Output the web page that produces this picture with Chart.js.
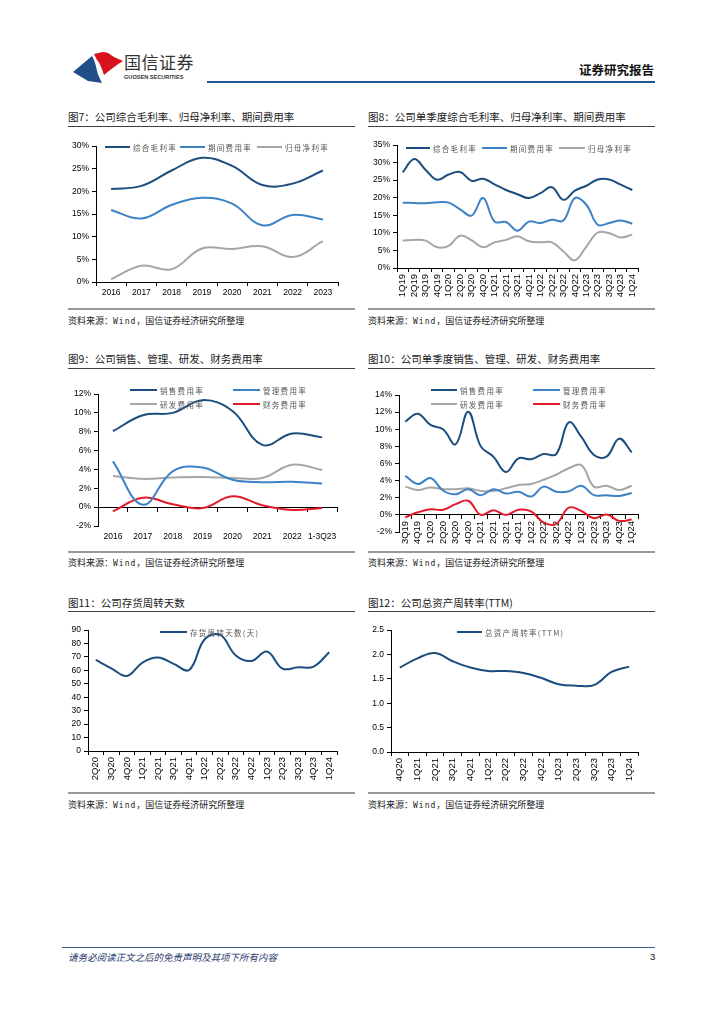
<!DOCTYPE html>
<html>
<head>
<meta charset="utf-8">
<script src="https://cdn.jsdelivr.net/npm/chart.js@4.4.1/dist/chart.umd.min.js"></script>
<style>
body{margin:0;background:#fff;width:724px;height:1024px;position:relative;overflow:hidden;font-family:"Noto Sans CJK SC",sans-serif;}
.t{position:absolute;white-space:nowrap;line-height:14px;}
.title{font-size:10.5px;color:#1a1a1a;}
.src{font-size:9px;color:#1a1a1a;}
.src b{font-weight:normal;font-family:"DejaVu Sans Mono",monospace;font-size:8px;letter-spacing:1px;}
.rule{position:absolute;}
.box{position:absolute;}
.lg{position:absolute;display:flex;align-items:center;height:12px;font-size:7.5px;letter-spacing:1.3px;color:#555;white-space:nowrap;}
.lg i{display:inline-block;height:2px;margin-right:3px;}
</style>
</head>
<body>
<svg class="rule" style="left:0;top:0" width="724" height="100">
  <path d="M73,72 L92,56 C95,61 96,66 97,71 C98,75 100,79 102,83 L88,81 Z" fill="#1f4f86"/>
  <path d="M94,54 L103,52 C108,52 111,55 114,57 L123,61 C116,65 110,70 104,75 C102,69 100,63 97,60 Z" fill="#d7121e"/>
</svg>
<div class="t" style="left:124px;top:52px;font-size:17px;line-height:20px;color:#333;letter-spacing:0.5px">国信证券</div>
<div class="t" style="left:124px;top:73px;font-size:5.6px;line-height:8px;color:#333;font-weight:bold;font-family:'Liberation Sans',Arial,sans-serif">GUOSEN SECURITIES</div>
<div class="t" style="left:579px;top:62px;font-size:12.5px;line-height:16px;font-weight:bold;color:#111">证券研究报告</div>
<div class="rule" style="left:207px;top:81px;width:448px;height:2px;background:#1f5a92"></div>

<!-- row 1 -->
<div class="t title" style="left:68px;top:110px">图7：公司综合毛利率、归母净利率、期间费用率</div>
<div class="t title" style="left:368px;top:110px">图8：公司单季度综合毛利率、归母净利率、期间费用率</div>
<div class="rule" style="left:68px;top:126px;width:287px;height:1.3px;background:#404040"></div>
<div class="rule" style="left:368px;top:126px;width:287px;height:1.3px;background:#404040"></div>
<div class="rule" style="left:68px;top:308px;width:287px;height:1.6px;background:#999"></div>
<div class="rule" style="left:368px;top:308px;width:287px;height:1.6px;background:#999"></div>
<div class="t src" style="left:68px;top:314px">资料来源：<b>Wind</b>，国信证券经济研究所整理</div>
<div class="t src" style="left:368px;top:314px">资料来源：<b>Wind</b>，国信证券经济研究所整理</div>

<!-- row 2 -->
<div class="t title" style="left:68px;top:352px">图9：公司销售、管理、研发、财务费用率</div>
<div class="t title" style="left:368px;top:352px">图10：公司单季度销售、管理、研发、财务费用率</div>
<div class="rule" style="left:68px;top:368px;width:287px;height:1.3px;background:#404040"></div>
<div class="rule" style="left:368px;top:368px;width:287px;height:1.3px;background:#404040"></div>
<div class="rule" style="left:68px;top:551px;width:287px;height:1.6px;background:#999"></div>
<div class="rule" style="left:368px;top:551px;width:287px;height:1.6px;background:#999"></div>
<div class="t src" style="left:68px;top:556px">资料来源：<b>Wind</b>，国信证券经济研究所整理</div>
<div class="t src" style="left:368px;top:556px">资料来源：<b>Wind</b>，国信证券经济研究所整理</div>

<!-- row 3 -->
<div class="t title" style="left:68px;top:596px">图11：公司存货周转天数</div>
<div class="t title" style="left:368px;top:596px">图12：公司总资产周转率(TTM)</div>
<div class="rule" style="left:68px;top:611px;width:287px;height:1.3px;background:#404040"></div>
<div class="rule" style="left:368px;top:611px;width:287px;height:1.3px;background:#404040"></div>
<div class="rule" style="left:68px;top:792px;width:287px;height:1.6px;background:#999"></div>
<div class="rule" style="left:368px;top:792px;width:287px;height:1.6px;background:#999"></div>
<div class="t src" style="left:68px;top:798px">资料来源：<b>Wind</b>，国信证券经济研究所整理</div>
<div class="t src" style="left:368px;top:798px">资料来源：<b>Wind</b>，国信证券经济研究所整理</div>

<!-- footer -->
<div class="rule" style="left:62px;top:947px;width:593px;height:1px;background:#2e5e8e"></div>
<div class="t" style="left:68px;top:950px;font-size:9.5px;font-style:italic;color:#1f3a6e">请务必阅读正文之后的免责声明及其项下所有内容</div>
<div class="t" style="left:650px;top:950px;font-size:9.5px;color:#111;font-family:'Liberation Sans',Arial,sans-serif">3</div>

<script>
// ---- data ----
const years7 = ['2016', '2017', '2018', '2019', '2020', '2021', '2022', '2023'];
const gross7 = [20.5, 21.2, 24.6, 27.4, 25.6, 21.4, 21.7, 24.6];
const expense7 = [15.9, 14.0, 17.0, 18.6, 17.3, 12.5, 14.8, 13.8];
const net7 = [0.6, 3.6, 2.8, 7.4, 7.3, 7.9, 5.5, 9.0];

const quarters8 = ['1Q19', '2Q19', '3Q19', '4Q19', '1Q20', '2Q20', '3Q20', '4Q20', '1Q21', '2Q21', '3Q21',
	'4Q21', '1Q22', '2Q22', '3Q22', '4Q22', '1Q23', '2Q23', '3Q23', '4Q23', '1Q24'];
const gross8 = [27.2, 31.0, 27.9, 25.1, 26.6, 27.3, 24.8, 25.4, 23.8, 22.2, 21.0, 19.9, 21.3, 23.0, 19.4, 22.0, 23.4, 25.2, 25.2, 23.7, 22.2];
const expense8 = [18.6, 18.5, 18.4, 18.7, 18.6, 16.7, 14.9, 19.9, 13.2, 13.1, 10.6, 13.2, 12.8, 13.7, 13.5, 19.9, 18.0, 12.3, 12.8, 13.5, 12.6];
const net8 = [7.8, 8.0, 7.8, 5.9, 6.3, 9.2, 7.9, 5.9, 7.3, 8.0, 9.0, 7.6, 7.3, 7.3, 4.7, 2.2, 6.1, 10.1, 9.9, 8.7, 9.5];

const years9 = ['2016', '2017', '2018', '2019', '2020', '2021', '2022', '1-3Q23'];
const sales9 = [8.05, 9.75, 10.0, 11.35, 10.2, 6.6, 7.8, 7.4];
const admin9 = [4.85, 0.25, 3.8, 4.2, 2.9, 2.65, 2.7, 2.5];
const rd9 = [3.3, 3.0, 3.15, 3.2, 3.1, 3.1, 4.5, 3.95];
const fin9 = [-0.45, 1.0, 0.3, -0.1, 1.15, 0.2, -0.3, -0.1];

const quarters10 = ['3Q19', '4Q19', '1Q20', '2Q20', '3Q20', '4Q20', '1Q21', '2Q21', '3Q21', '4Q21',
	'1Q22', '2Q22', '3Q22', '4Q22', '1Q23', '2Q23', '3Q23', '4Q23', '1Q24'];
const sales10 = [10.9, 11.8, 10.5, 10.0, 8.25, 12.05, 8.0, 6.8, 5.0, 6.6, 6.5, 7.1, 7.1, 10.8, 9.1, 7.0, 6.8, 8.9, 7.3];
const admin10 = [4.55, 3.6, 4.3, 2.85, 2.4, 3.0, 2.3, 3.0, 2.5, 2.7, 2.15, 3.3, 2.7, 2.75, 3.4, 2.3, 2.3, 2.2, 2.55];
const rd10 = [3.3, 2.9, 3.2, 3.0, 3.0, 3.1, 2.8, 2.8, 3.1, 3.5, 3.6, 4.1, 4.7, 5.45, 5.8, 3.3, 3.4, 2.9, 3.4];
const fin10 = [-0.3, 0.3, 0.65, 0.6, 1.25, 1.65, 0.0, 0.55, 0.0, 0.6, 0.4, -0.9, -1.05, 0.85, 0.45, -0.4, 0.05, -0.7, -0.55];

const quarters11 = ['2Q20', '3Q20', '4Q20', '1Q21', '2Q21', '3Q21', '4Q21', '1Q22', '2Q22', '3Q22',
	'4Q22', '1Q23', '2Q23', '3Q23', '4Q23', '1Q24'];
const days11 = [67.7, 61.5, 55.8, 65.8, 69.5, 64.8, 60.3, 83.1, 86.3, 71.0, 67.0, 74.0, 61.3, 62.3, 62.8, 73.5];

const quarters12 = ['4Q20', '1Q21', '2Q21', '3Q21', '4Q21', '1Q22', '2Q22', '3Q22', '4Q22', '1Q23',
	'2Q23', '3Q23', '4Q23', '1Q24'];
const turnover12 = [1.73, 1.92, 2.03, 1.86, 1.73, 1.66, 1.66, 1.62, 1.52, 1.39, 1.36, 1.37, 1.64, 1.75];

// ---- style ----
const NAVY = '#1b4d7e';
const BLUE = '#3c82c4';
const GRAY = '#a6a6a6';
const RED = '#e01b2a';

Chart.defaults.font.family = '"Liberation Sans", Arial, sans-serif';
Chart.defaults.font.size = 8.5;
Chart.defaults.color = '#000';

const pct = v => v + '%';

function line(label, data, color) {
	return {label, data, borderColor: color, borderWidth: 2, pointRadius: 0, tension: 0.4, fill: false};
}

// plot = [left, top, right, bottom] of the plot area on the page
function makeChart(plot, labels, datasets, y, xMode, rotate) {
	const [l, t, r, b] = plot;
	const yW = 32, xH = 34;
	const bx = l - 36, by = t - 10, bw = r + 12 - bx, bh = b + 46 - by;
	const box = document.createElement('div');
	box.className = 'box';
	Object.assign(box.style, {left: bx + 'px', top: by + 'px', width: bw + 'px', height: bh + 'px'});
	const cv = document.createElement('canvas');
	box.appendChild(cv);
	document.body.appendChild(box);

	const xTicks = {autoSkip: false, maxRotation: rotate ? 90 : 0, minRotation: rotate ? 90 : 0, padding: 2,
		font: {size: rotate ? 9.5 : 8.5}};
	const scales = {
		x: {
			type: 'category',
			offset: true,
			position: xMode === 'zero' ? {y: 0} : 'bottom',
			grid: {display: xMode !== 'split', drawTicks: xMode !== 'split', drawOnChartArea: false, offset: true, tickLength: 4, color: '#000'},
			border: {display: xMode !== 'split', color: '#000', width: 1},
			ticks: xMode === 'split' ? Object.assign({}, xTicks, {padding: 6}) : xTicks,
			afterFit: s => { if (xMode !== 'zero') s.height = xH; }
		},
		y: {
			min: y.min, max: y.max,
			ticks: {stepSize: y.step, callback: y.fmt, padding: 3},
			grid: {drawOnChartArea: false, tickLength: 4, color: '#000'},
			border: {color: '#000', width: 1},
			afterFit: s => { s.width = yW; }
		}
	};
	if (xMode === 'split') {
		scales.x2 = {
			type: 'category', axis: 'x', offset: true,
			position: {y: 0},
			grid: {drawOnChartArea: false, offset: true, tickLength: 4, color: '#000'},
			border: {color: '#000', width: 1},
			ticks: {display: false}
		};
	}
	return new Chart(cv, {
		type: 'line',
		data: {labels, datasets},
		options: {
			responsive: true,
			maintainAspectRatio: false,
			animation: false,
			layout: {padding: {left: l - bx - yW, top: t - by, right: bx + bw - r, bottom: xMode === 'zero' ? bh - (b - by) : by + bh - b - xH}},
			plugins: {legend: {display: false}, tooltip: {enabled: false}},
			scales
		}
	});
}

function legend(items) {
	items.forEach(([x, yc, w, color, text]) => {
		const d = document.createElement('div');
		d.className = 'lg';
		d.style.left = x + 'px';
		d.style.top = (yc - 6) + 'px';
		d.innerHTML = '<i style="width:' + w + 'px;background:' + color + '"></i>' + text;
		document.body.appendChild(d);
	});
}

makeChart([96, 146, 338, 282], years7, [
	line('综合毛利率', gross7, NAVY),
	line('期间费用率', expense7, BLUE),
	line('归母净利率', net7, GRAY)
], {min: 0, max: 30, step: 5, fmt: pct}, 'bottom', false);
legend([[105, 147, 25, NAVY, '综合毛利率'], [180, 147, 25, BLUE, '期间费用率'], [257, 147, 25, GRAY, '归母净利率']]);

makeChart([397, 145, 638, 268], quarters8, [
	line('综合毛利率', gross8, NAVY),
	line('期间费用率', expense8, BLUE),
	line('归母净利率', net8, GRAY)
], {min: 0, max: 35, step: 5, fmt: pct}, 'bottom', true);
legend([[406, 148, 24, NAVY, '综合毛利率'], [482, 148, 25, BLUE, '期间费用率'], [559, 148, 26, GRAY, '归母净利率']]);

makeChart([98, 394, 337, 526], years9, [
	line('销售费用率', sales9, NAVY),
	line('管理费用率', admin9, BLUE),
	line('研发费用率', rd9, GRAY),
	line('财务费用率', fin9, RED)
], {min: -2, max: 12, step: 2, fmt: pct}, 'split', false);
legend([[130, 390, 27, NAVY, '销售费用率'], [233, 390, 27, BLUE, '管理费用率'],
	[130, 404, 27, GRAY, '研发费用率'], [233, 404, 27, RED, '财务费用率']]);

makeChart([399, 395, 638, 532], quarters10, [
	line('销售费用率', sales10, NAVY),
	line('管理费用率', admin10, BLUE),
	line('研发费用率', rd10, GRAY),
	line('财务费用率', fin10, RED)
], {min: -2, max: 14, step: 2, fmt: pct}, 'zero', true);
legend([[431, 390, 26, NAVY, '销售费用率'], [533, 390, 27, BLUE, '管理费用率'],
	[431, 404, 26, GRAY, '研发费用率'], [533, 404, 27, RED, '财务费用率']]);

makeChart([88, 630, 337, 751], quarters11, [
	line('存货周转天数(天)', days11, NAVY)
], {min: 0, max: 90, step: 10, fmt: v => v}, 'bottom', true);
legend([[160, 632, 27, NAVY, '存货周转天数(天)']]);

makeChart([391, 630, 638, 752], quarters12, [
	line('总资产周转率(TTM)', turnover12, NAVY)
], {min: 0, max: 2.5, step: 0.5, fmt: v => v.toFixed(1)}, 'bottom', true);
legend([[457, 632, 25, NAVY, '总资产周转率(TTM)']]);
</script>
</body>
</html>
